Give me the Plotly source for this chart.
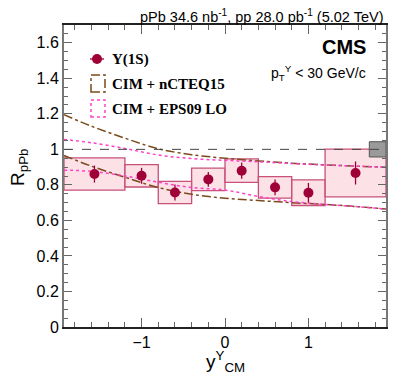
import plotly.graph_objects as go

# rapidity bins (centre-of-mass frame)
bin_lo = [-1.93, -1.2, -0.8, -0.4, 0.0, 0.4, 0.8, 1.2]
bin_hi = [-1.2, -0.8, -0.4, 0.0, 0.4, 0.8, 1.2, 1.93]
y_pts = [-1.565, -1.0, -0.6, -0.2, 0.2, 0.6, 1.0, 1.565]
rppb = [0.861, 0.851, 0.757, 0.831, 0.880, 0.786, 0.756, 0.867]
stat = [0.048, 0.045, 0.045, 0.042, 0.046, 0.045, 0.055, 0.065]
syst = [0.091, 0.063, 0.063, 0.063, 0.066, 0.061, 0.072, 0.134]
glob_unc = 0.043

# model curves
y_model = [-1.93, -1.6, -1.2, -0.8, -0.4, 0.0, 0.4, 0.8, 1.2, 1.6, 1.93]
ncteq_hi = [1.195, 1.13, 1.063, 1.003, 0.97, 0.95, 0.935, 0.922, 0.913, 0.905, 0.899]
ncteq_lo = [0.965, 0.905, 0.843, 0.785, 0.747, 0.725, 0.712, 0.700, 0.690, 0.677, 0.664]
eps09_hi = [1.056, 1.037, 1.005, 0.968, 0.948, 0.938, 0.930, 0.920, 0.912, 0.905, 0.899]
eps09_lo = [0.883, 0.876, 0.850, 0.815, 0.785, 0.771, 0.735, 0.706, 0.690, 0.677, 0.664]

red = "#a00038"
brown = "#7a4a1c"
pink = "#ff40c8"

fig = go.Figure()

# syst boxes
for lo, hi, v, s in zip(bin_lo, bin_hi, rppb, syst):
    fig.add_shape(type="rect", xref="x", yref="y", x0=lo, x1=hi, y0=v - s, y1=v + s,
                  fillcolor="rgba(250,200,210,0.55)", line=dict(color="#c8507a", width=1.3),
                  layer="below")

# global uncertainty box
fig.add_shape(type="rect", xref="x", yref="y", x0=1.73, x1=1.93, y0=1 - glob_unc, y1=1 + glob_unc,
              fillcolor="#9a9a9a", line=dict(color="#555555", width=1))

# unity line
fig.add_shape(type="line", xref="paper", yref="y", x0=0, x1=1, y0=1, y1=1,
              line=dict(color="#444444", width=1, dash="dash"))

for ys in (ncteq_hi, ncteq_lo):
    fig.add_trace(go.Scatter(x=y_model, y=ys, mode="lines", line_shape="spline",
                             line=dict(color=brown, width=1.5, dash="dashdot"), showlegend=False))
for ys in (eps09_hi, eps09_lo):
    fig.add_trace(go.Scatter(x=y_model, y=ys, mode="lines", line_shape="spline",
                             line=dict(color=pink, width=1.5, dash="dot"), showlegend=False))

fig.add_trace(go.Scatter(x=y_pts, y=rppb, mode="markers",
                         marker=dict(color=red, size=10),
                         error_y=dict(type="data", array=stat, color=red, thickness=1.3, width=0),
                         showlegend=False))

# legend drawn by hand (ROOT style); helpers map page pixels to paper coords
def px(xp):
    return (xp - 64) / 322.0

def py(yp):
    return (327 - yp) / 302.0

fig.add_shape(type="line", xref="paper", yref="paper", x0=px(90), x1=px(104), y0=py(59), y1=py(59),
              line=dict(color=red, width=1.3))
fig.add_shape(type="circle", xref="paper", yref="paper", xsizemode="pixel", ysizemode="pixel",
              xanchor=px(97), yanchor=py(59), x0=-5, x1=5, y0=-5, y1=5,
              fillcolor=red, line=dict(color=red, width=0))
fig.add_shape(type="rect", xref="paper", yref="paper", x0=px(91), x1=px(105), y0=py(92), y1=py(75),
              line=dict(color=brown, width=1.5, dash="dashdot"))
fig.add_shape(type="rect", xref="paper", yref="paper", x0=px(91), x1=px(105), y0=py(117), y1=py(100),
              line=dict(color=pink, width=1.5, dash="dot"))

leg_font = dict(family="Liberation Serif", size=15, color="black")
for txt, yp in [("<b>Υ(1S)</b>", 59), ("<b>CIM + nCTEQ15</b>", 83.5), ("<b>CIM + EPS09 LO</b>", 108.5)]:
    fig.add_annotation(text=txt, xref="paper", yref="paper", x=px(110), y=py(yp),
                       xanchor="left", yanchor="middle", showarrow=False, font=leg_font)

sans = "Liberation Sans"
fig.add_annotation(text="pPb 34.6 nb<sup>-1</sup>, pp 28.0 pb<sup>-1</sup> (5.02 TeV)",
                   xref="paper", yref="paper", x=px(385), y=py(26), xanchor="right", yanchor="bottom",
                   borderpad=0, showarrow=False, font=dict(family=sans, size=14.5, color="black"))
fig.add_annotation(text="<b>CMS</b>", xref="paper", yref="paper", x=px(368), y=py(47),
                   xanchor="right", yanchor="middle", showarrow=False,
                   font=dict(family=sans, size=20, color="black"))
fig.add_annotation(text="p<sub>T</sub><sup>Υ</sup> < 30 GeV/c", xref="paper", yref="paper",
                   x=px(368), y=py(73), xanchor="right", yanchor="middle", showarrow=False,
                   font=dict(family=sans, size=14, color="black"))
fig.add_annotation(text="R<sub>pPb</sub>", xref="paper", yref="paper", x=px(19), y=py(168),
                   xanchor="center", yanchor="middle", textangle=-90, showarrow=False,
                   font=dict(family=sans, size=19, color="black"))
fig.add_annotation(text="y<sup>Υ</sup><sub>CM</sub>", xref="paper", yref="paper", x=px(225), y=py(361),
                   xanchor="center", yanchor="middle", showarrow=False,
                   font=dict(family=sans, size=19, color="black"))

# page body adds an 8px offset, so the figure is 8px smaller and margins shifted
fig.update_layout(
    width=391, height=372,
    margin=dict(l=56, r=13, t=17, b=53),
    plot_bgcolor="white", paper_bgcolor="white",
    font=dict(family=sans, size=16, color="black"),
    showlegend=False,
)
fig.update_xaxes(range=[-1.93, 1.93], tick0=0, dtick=1, ticks="inside", ticklen=9,
                 tickcolor="#666", mirror="ticks", showline=True, linecolor="#222", linewidth=1.5,
                 showgrid=False, zeroline=False,
                 minor=dict(dtick=0.2, tick0=0, ticks="inside", ticklen=5, tickcolor="#666"))
fig.update_yaxes(range=[0, 1.7], tick0=0, dtick=0.2, ticks="inside", ticklen=8,
                 tickcolor="#666", mirror="ticks", showline=True, linecolor="#777", linewidth=2,
                 showgrid=False, zeroline=False,
                 minor=dict(dtick=0.05, tick0=0, ticks="inside", ticklen=4, tickcolor="#666"))

fig.write_html("out.html")
